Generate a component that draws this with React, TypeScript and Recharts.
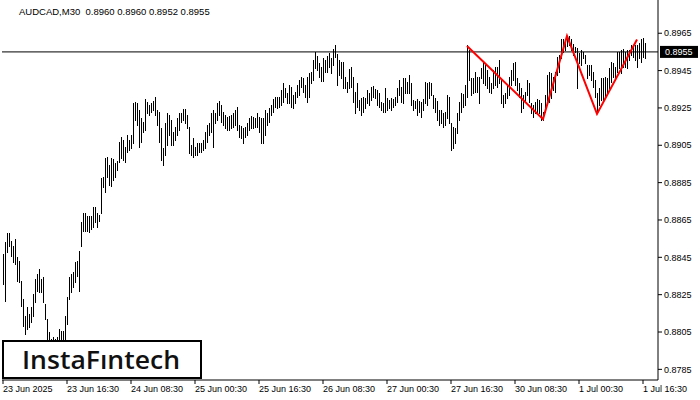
import React from 'react';
import { ComposedChart, Bar, Line, XAxis, YAxis, ReferenceLine } from 'recharts';

// AUDCAD M30 bar chart with a triple-top pattern outline

const symbolTitle = 'AUDCAD,M30  0.8960 0.8960 0.8952 0.8955';

const timeLabels = [
  '23 Jun 2025', '23 Jun 16:30', '24 Jun 08:30', '25 Jun 00:30', '25 Jun 16:30',
  '26 Jun 08:30', '27 Jun 00:30', '27 Jun 16:30', '30 Jun 08:30', '1 Jul 00:30', '1 Jul 16:30',
];
const barsPerLabel = 32;

const priceTicks = [0.8785, 0.8805, 0.8825, 0.8845, 0.8865, 0.8885, 0.8905, 0.8925, 0.8945, 0.8965];
const currentPrice = 0.8955;

const highs = [
  0.88466, 0.88530, 0.88578, 0.88578, 0.88535, 0.88509, 0.88546, 0.88450, 0.88429, 0.88322,
  0.88226, 0.88135, 0.88183, 0.88146, 0.88183, 0.88253, 0.88333, 0.88359, 0.88386, 0.88333,
  0.88343, 0.88199, 0.88119, 0.88050, 0.88013, 0.88023, 0.88013, 0.88023, 0.88066, 0.88055,
  0.88055, 0.88135, 0.88237, 0.88343, 0.88359, 0.88370, 0.88423, 0.88429, 0.88482, 0.88637,
  0.88690, 0.88690, 0.88669, 0.88669, 0.88669, 0.88717, 0.88717, 0.88690, 0.88679, 0.88877,
  0.88882, 0.88983, 0.88989, 0.88946, 0.88983, 0.88978, 0.88957, 0.88967, 0.89069, 0.89095,
  0.89079, 0.89042, 0.89106, 0.89079, 0.89106, 0.89277, 0.89282, 0.89277, 0.89239, 0.89197,
  0.89175, 0.89298, 0.89282, 0.89266, 0.89277, 0.89287, 0.89309, 0.89239, 0.89229, 0.89143,
  0.89037, 0.89170, 0.89223, 0.89213, 0.89186, 0.89122, 0.89149, 0.89197, 0.89223, 0.89223,
  0.89245, 0.89245, 0.89213, 0.89149, 0.89053, 0.89090, 0.89042, 0.89063, 0.89063, 0.89063,
  0.89079, 0.89122, 0.89159, 0.89170, 0.89223, 0.89239, 0.89223, 0.89277, 0.89287, 0.89266,
  0.89229, 0.89213, 0.89202, 0.89207, 0.89213, 0.89223, 0.89239, 0.89255, 0.89159, 0.89154,
  0.89143, 0.89149, 0.89170, 0.89197, 0.89207, 0.89202, 0.89197, 0.89223, 0.89202, 0.89197,
  0.89197, 0.89239, 0.89223, 0.89250, 0.89266, 0.89298, 0.89309, 0.89309, 0.89309, 0.89346,
  0.89383, 0.89357, 0.89330, 0.89373, 0.89362, 0.89319, 0.89335, 0.89373, 0.89399, 0.89415,
  0.89410, 0.89373, 0.89415, 0.89437, 0.89442, 0.89506, 0.89549, 0.89527, 0.89490, 0.89469,
  0.89517, 0.89506, 0.89527, 0.89543, 0.89517, 0.89565, 0.89586, 0.89538, 0.89506, 0.89495,
  0.89495, 0.89415, 0.89389, 0.89458, 0.89469, 0.89415, 0.89335, 0.89383, 0.89293, 0.89303,
  0.89309, 0.89303, 0.89346, 0.89330, 0.89362, 0.89367, 0.89351, 0.89346, 0.89330, 0.89282,
  0.89277, 0.89357, 0.89303, 0.89293, 0.89303, 0.89298, 0.89309, 0.89357, 0.89399, 0.89362,
  0.89410, 0.89410, 0.89389, 0.89426, 0.89383, 0.89293, 0.89287, 0.89298, 0.89287, 0.89282,
  0.89298, 0.89389, 0.89383, 0.89389, 0.89383, 0.89319, 0.89303, 0.89287, 0.89239, 0.89239,
  0.89223, 0.89229, 0.89319, 0.89309, 0.89170, 0.89149, 0.89143, 0.89223, 0.89282, 0.89330,
  0.89325, 0.89373, 0.89586, 0.89559, 0.89410, 0.89410, 0.89442, 0.89415, 0.89415, 0.89463,
  0.89495, 0.89479, 0.89453, 0.89415, 0.89383, 0.89453, 0.89469, 0.89469, 0.89506, 0.89399,
  0.89319, 0.89330, 0.89373, 0.89415, 0.89453, 0.89490, 0.89495, 0.89410, 0.89383, 0.89357,
  0.89319, 0.89335, 0.89399, 0.89383, 0.89277, 0.89266, 0.89282, 0.89298, 0.89293, 0.89277,
  0.89229, 0.89319, 0.89426, 0.89442, 0.89437, 0.89415, 0.89442, 0.89522, 0.89533, 0.89618,
  0.89618, 0.89613, 0.89634, 0.89634, 0.89618, 0.89591, 0.89575, 0.89570, 0.89543, 0.89559,
  0.89549, 0.89533, 0.89479, 0.89479, 0.89479, 0.89442, 0.89399, 0.89330, 0.89357, 0.89410,
  0.89410, 0.89415, 0.89410, 0.89463, 0.89495, 0.89490, 0.89469, 0.89549, 0.89549, 0.89559,
  0.89565, 0.89549, 0.89559, 0.89559, 0.89586, 0.89581, 0.89586, 0.89586, 0.89597, 0.89618,
  0.89623, 0.89600,
];

const lows = [
  0.88306, 0.88215, 0.88477, 0.88509, 0.88455, 0.88423, 0.88413, 0.88322, 0.88317, 0.88189,
  0.88082, 0.88039, 0.88066, 0.88077, 0.88103, 0.88135, 0.88210, 0.88269, 0.88263, 0.88263,
  0.88210, 0.88119, 0.88013, 0.87959, 0.87933, 0.87949, 0.87933, 0.87959, 0.87986, 0.87986,
  0.88002, 0.88013, 0.88093, 0.88226, 0.88263, 0.88290, 0.88317, 0.88349, 0.88269, 0.88509,
  0.88589, 0.88589, 0.88589, 0.88583, 0.88599, 0.88610, 0.88637, 0.88610, 0.88642, 0.88690,
  0.88829, 0.88802, 0.88882, 0.88839, 0.88834, 0.88866, 0.88882, 0.88919, 0.88962, 0.88983,
  0.88973, 0.88962, 0.89015, 0.89026, 0.89037, 0.89063, 0.89186, 0.89159, 0.89042, 0.89069,
  0.89122, 0.89133, 0.89223, 0.89213, 0.89229, 0.89239, 0.89213, 0.89159, 0.89069, 0.88973,
  0.88946, 0.88999, 0.89053, 0.89106, 0.89053, 0.89053, 0.89079, 0.89106, 0.89133, 0.89175,
  0.89186, 0.89170, 0.89143, 0.89010, 0.88999, 0.88989, 0.88999, 0.88999, 0.89015, 0.89015,
  0.89026, 0.89037, 0.89069, 0.89106, 0.89122, 0.89042, 0.89170, 0.89186, 0.89213, 0.89175,
  0.89159, 0.89143, 0.89133, 0.89133, 0.89143, 0.89149, 0.89159, 0.89133, 0.89095, 0.89090,
  0.89063, 0.89095, 0.89106, 0.89133, 0.89143, 0.89143, 0.89149, 0.89149, 0.89122, 0.89063,
  0.89063, 0.89106, 0.89159, 0.89175, 0.89213, 0.89229, 0.89255, 0.89250, 0.89255, 0.89266,
  0.89282, 0.89309, 0.89277, 0.89277, 0.89255, 0.89250, 0.89277, 0.89309, 0.89319, 0.89362,
  0.89335, 0.89309, 0.89282, 0.89309, 0.89383, 0.89399, 0.89463, 0.89453, 0.89415, 0.89394,
  0.89394, 0.89442, 0.89442, 0.89469, 0.89437, 0.89479, 0.89522, 0.89373, 0.89426, 0.89410,
  0.89357, 0.89357, 0.89335, 0.89357, 0.89362, 0.89282, 0.89223, 0.89255, 0.89239, 0.89213,
  0.89229, 0.89250, 0.89277, 0.89266, 0.89293, 0.89309, 0.89303, 0.89266, 0.89255, 0.89239,
  0.89229, 0.89229, 0.89239, 0.89250, 0.89239, 0.89255, 0.89266, 0.89282, 0.89319, 0.89282,
  0.89277, 0.89330, 0.89330, 0.89330, 0.89266, 0.89239, 0.89250, 0.89213, 0.89229, 0.89202,
  0.89239, 0.89277, 0.89266, 0.89303, 0.89319, 0.89250, 0.89229, 0.89186, 0.89159, 0.89170,
  0.89149, 0.89159, 0.89197, 0.89170, 0.89026, 0.89037, 0.89063, 0.89117, 0.89186, 0.89229,
  0.89255, 0.89266, 0.89309, 0.89399, 0.89319, 0.89330, 0.89335, 0.89335, 0.89277, 0.89410,
  0.89383, 0.89373, 0.89357, 0.89335, 0.89330, 0.89357, 0.89373, 0.89362, 0.89383, 0.89277,
  0.89255, 0.89277, 0.89303, 0.89319, 0.89373, 0.89399, 0.89373, 0.89346, 0.89309, 0.89229,
  0.89250, 0.89282, 0.89319, 0.89282, 0.89223, 0.89202, 0.89223, 0.89229, 0.89223, 0.89186,
  0.89186, 0.89229, 0.89293, 0.89282, 0.89303, 0.89346, 0.89335, 0.89426, 0.89442, 0.89517,
  0.89549, 0.89559, 0.89581, 0.89586, 0.89559, 0.89533, 0.89549, 0.89357, 0.89490, 0.89479,
  0.89517, 0.89490, 0.89410, 0.89426, 0.89399, 0.89362, 0.89309, 0.89223, 0.89266, 0.89293,
  0.89282, 0.89309, 0.89330, 0.89357, 0.89389, 0.89415, 0.89399, 0.89442, 0.89463, 0.89437,
  0.89469, 0.89469, 0.89463, 0.89506, 0.89533, 0.89522, 0.89506, 0.89469, 0.89517, 0.89495,
  0.89522, 0.89520,
];

// triple-top outline: bar index and price of each vertex
const patternBars = [232, 270, 282, 297, 317];
const patternPrices = [0.89582, 0.89190, 0.89636, 0.89218, 0.89616];

const rightShift = 6; // empty slots after the last bar

const data = Array.from({ length: highs.length + rightShift }, (_, i) => {
  const p = patternBars.indexOf(i);
  return {
    i,
    range: i < highs.length ? [lows[i], highs[i]] : null,
    pattern: p >= 0 ? patternPrices[p] : null,
  };
});

const tickIdx = timeLabels.map((_, k) => k * barsPerLabel);

const FONT = '"Liberation Sans", Arial, sans-serif';

const HLBar = (props: any) => {
  const { x, width, y, height, payload } = props;
  if (!payload || !payload.range) return <g />;
  const cx = Math.floor(x + width / 2) + 0.5;
  const top = Math.min(y, y + height);
  const bottom = Math.max(y, y + height);
  return <line x1={cx} x2={cx} y1={top} y2={bottom + 1} stroke="#000" strokeWidth={1} shapeRendering="crispEdges" />;
};

const TimeTick = (props: any) => {
  const { x, y, payload } = props;
  const k = tickIdx.indexOf(payload.value);
  if (k < 0) return <g />;
  return (
    <text x={Math.floor(x)} y={y + 8} textAnchor="start" fontSize={9} fontFamily={FONT} fill="#000">
      {timeLabels[k]}
    </text>
  );
};

const PriceLabel = (props: any) => {
  const { viewBox } = props;
  if (!viewBox) return null;
  const lx = viewBox.x + viewBox.width + 2;
  const ly = viewBox.y;
  return (
    <g>
      <rect x={lx} y={ly - 6} width={38} height={12} fill="#000" />
      <text x={lx + 5} y={ly + 3.5} fontSize={9} fontFamily={FONT} fill="#fff">
        {currentPrice.toFixed(4)}
      </text>
    </g>
  );
};

export default function App() {
  return (
    <div style={{ position: 'absolute', left: 0, top: 0, width: 700, height: 400, background: '#fff' }}>
      <ComposedChart
        width={700}
        height={400}
        data={data}
        margin={{ top: 0, right: 0, bottom: 0, left: 2 }}
        barCategoryGap={0}
        style={{ fontFamily: FONT }}
      >
        <XAxis
          dataKey="i"
          type="category"
          ticks={tickIdx}
          interval={0}
          height={20}
          tickSize={4}
          tickMargin={0}
          axisLine={{ stroke: '#000' }}
          tickLine={{ stroke: '#000' }}
          tick={<TimeTick />}
        />
        <YAxis
          orientation="right"
          type="number"
          domain={[0.87793, 0.89828]}
          allowDataOverflow
          ticks={priceTicks}
          width={42}
          tickSize={4}
          tickMargin={2}
          axisLine={{ stroke: '#000' }}
          tickLine={{ stroke: '#000' }}
          tick={{ fontSize: 9, fill: '#000', fontFamily: FONT }}
          tickFormatter={(v: number) => v.toFixed(4)}
        />
        <ReferenceLine y={currentPrice} stroke="#000" strokeWidth={1} label={<PriceLabel />} />
        <Bar dataKey="range" shape={<HLBar />} isAnimationActive={false} />
        <Line
          dataKey="pattern"
          stroke="#ff0000"
          strokeWidth={2}
          dot={false}
          connectNulls
          isAnimationActive={false}
        />
      </ComposedChart>
      <svg width={700} height={400} style={{ position: 'absolute', left: 0, top: 0, pointerEvents: 'none' }}>
        <text x={19} y={15} fontSize={9.5} fontFamily={FONT} fill="#000" style={{ whiteSpace: 'pre' }}>
          {symbolTitle}
        </text>
        <rect x={3} y={341} width={198} height={37} fill="#fff" stroke="#000" strokeWidth={2} />
        <text
          x={22}
          y={369}
          fontSize={26}
          fontFamily='"Open Sans", "Noto Sans", sans-serif'
          fontWeight={600}
          fill="#111"
          textLength={158}
          lengthAdjust="spacingAndGlyphs"
        >
          InstaFıntech
        </text>
      </svg>
    </div>
  );
}
